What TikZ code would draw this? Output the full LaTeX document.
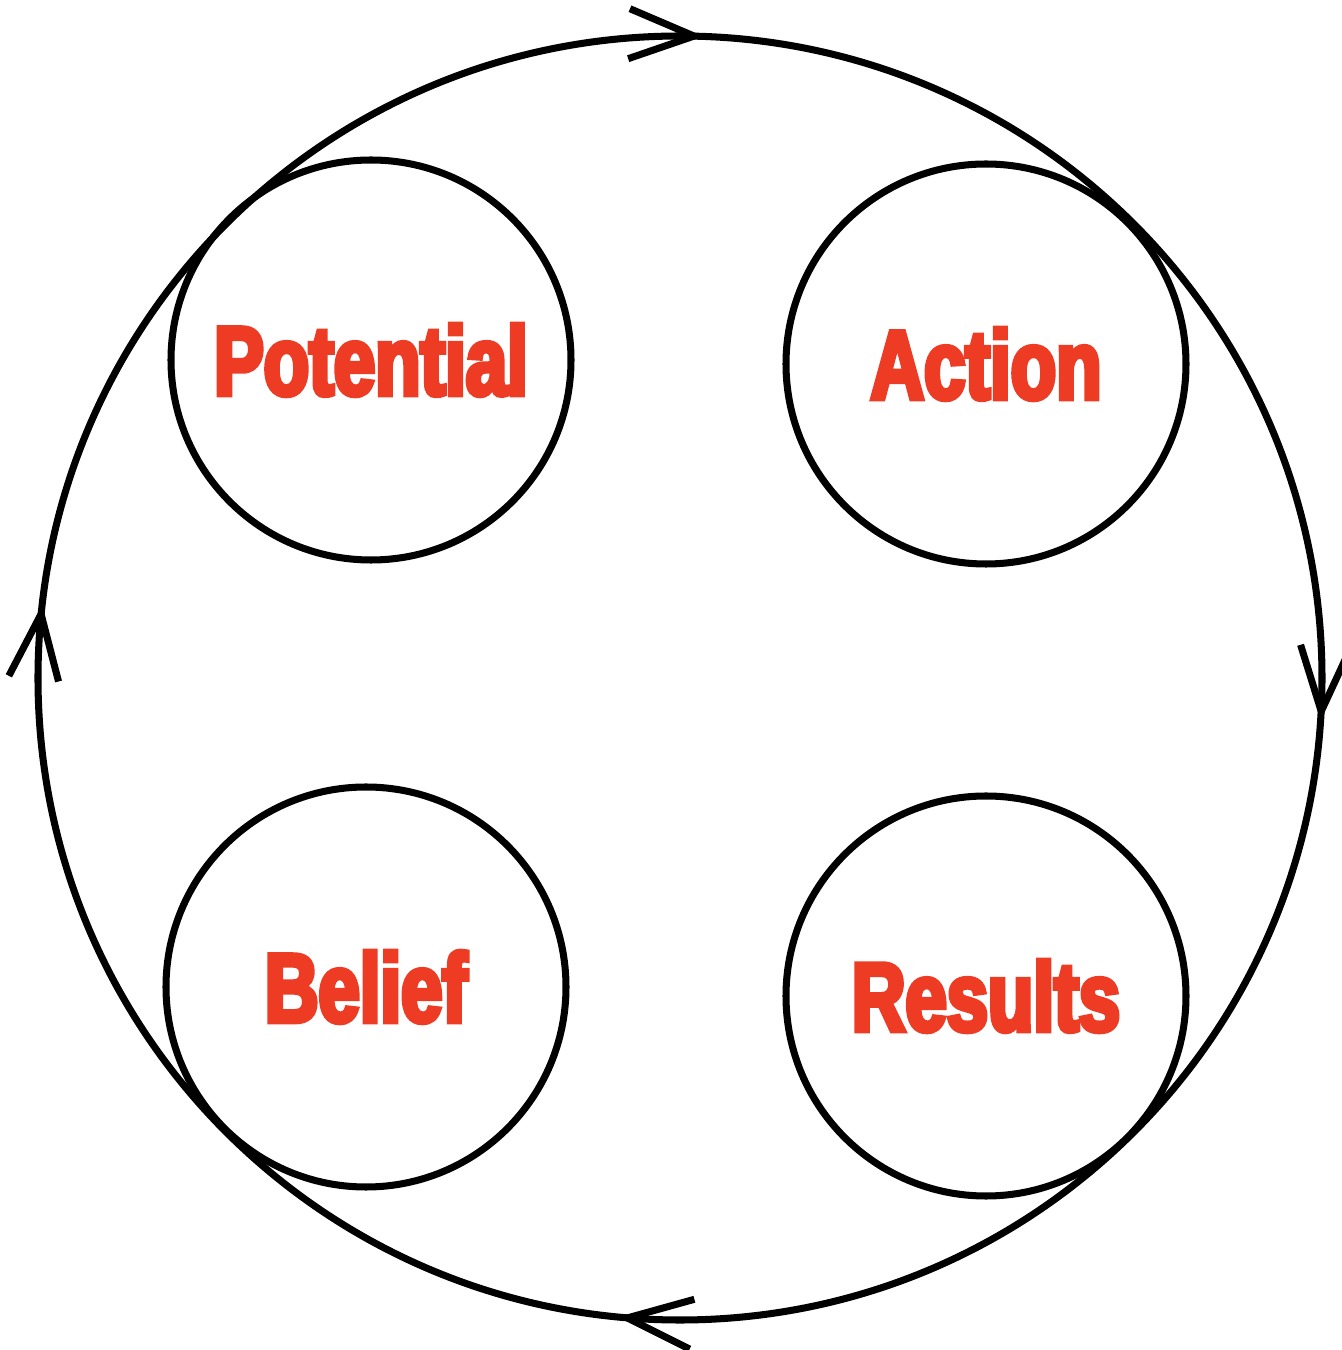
\documentclass[tikz,border=0pt]{standalone}
\usepackage{fontspec}
\usetikzlibrary{arrows.meta,decorations.markings}
\newfontfamily\headfont[FakeStretch=0.76,FakeBold=5]{Liberation Sans Bold}
\definecolor{stagered}{HTML}{EE3B24}

\begin{document}
\begin{tikzpicture}
  \tikzset{
    stage/.style={circle,draw,line width=2pt,minimum size=4cm,inner sep=0pt,
      text=stagered,font=\headfont\fontsize{27.8}{30}\selectfont},
    loop/.style={line width=2pt,
      decoration={markings,
        mark=at position 0.2441 with {\arrowreversed{Straight Barb[length=6.5mm,width=5mm]}},
        mark=at position 0.4817 with {\arrowreversed{Straight Barb[length=6.5mm,width=5mm]}},
        mark=at position 0.7345 with {\arrowreversed{Straight Barb[length=6.5mm,width=5mm]}},
        mark=at position 0.9893 with {\arrowreversed{Straight Barb[length=6.5mm,width=5mm]}}},
      postaction={decorate}}
  }
  \useasboundingbox (0,0) rectangle (13.41,13.5);

  \coordinate (O) at (6.80,6.72);
  \draw[loop] (O) circle (6.42);

  \node[stage] (P) at (3.71,9.90) {Potential};
  \node[stage] (A) at (9.86,9.86) {Action};
  \node[stage] (R) at (9.86,3.54) {Results};
  \node[stage] (B) at (3.66,3.63) {Belief\hspace{0.2cm}};
\end{tikzpicture}
\end{document}
